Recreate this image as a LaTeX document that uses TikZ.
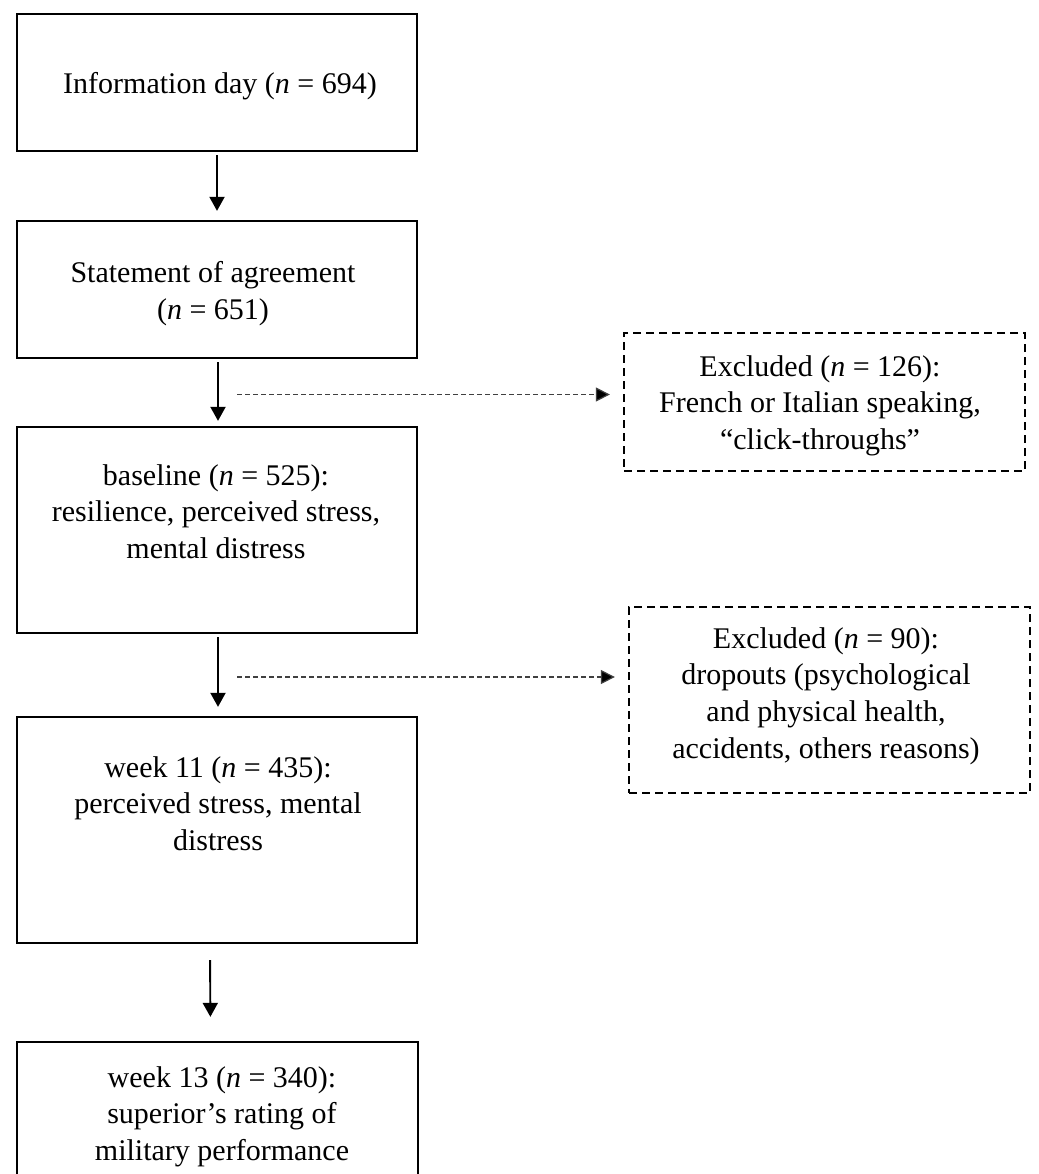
\documentclass[tikz,border=0pt]{standalone}
\usepackage{fontspec}
\setmainfont{Liberation Serif}
\usetikzlibrary{arrows.meta,calc}
\begin{document}
\begin{tikzpicture}[x=1pt,y=-1pt,
  box/.style={draw=black, line width=2.3pt, rectangle, inner sep=0pt, minimum width=400pt},
  exbox/.style={draw=black, line width=2.3pt, rectangle, inner sep=0pt, minimum width=401pt, dash pattern=on 8pt off 5pt},
  txt/.style={inner sep=0pt, align=center, anchor=north, font=\fontsize{30}{36.7}\selectfont},
  arr/.style={line width=1.9pt, -{Triangle[length=14pt,width=15pt]}, shorten <=3pt},
  darr/.style={line width=1.2pt, draw=black!75, dash pattern=on 5pt off 3pt, -{Triangle[length=14pt,width=14pt,fill=black]}, shorten >=13pt}
]
\useasboundingbox (0,0) rectangle (1038,1174);
% main boxes
\node[box, minimum height=137pt] (b1) at (217,82.5) {};
\node[box, minimum height=137pt] (b2) at (217,289.5) {};
\node[box, minimum height=206pt] (b3) at (217,530) {};
\node[box, minimum height=226pt] (b4) at (217,830) {};
\node[box, minimum width=401pt, minimum height=200pt] (b5) at (217.5,1142) {};
% excluded boxes
\node[exbox, minimum height=138pt] (e1) at (824.5,402) {};
\node[exbox, minimum height=186pt] (e2) at (829.5,700) {};
% texts
\node[txt] (t1) at (220,72) {Information day (\textit{n} = 694)};
\node[txt] (t2) at (213,261) {Statement of agreement\\(\textit{n} = 651)};
\node[txt] (t3) at (216,464) {baseline (\textit{n} = 525):\\resilience, perceived stress,\\mental distress};
\node[txt] (t4) at (218,756) {week 11 (\textit{n} = 435):\\perceived stress, mental\\distress};
\node[txt] (t5) at (222,1066) {week 13 (\textit{n} = 340):\\superior’s rating of\\military performance};
\node[txt] (te1) at (820,355) {Excluded (\textit{n} = 126):\\French or Italian speaking,\\“click-throughs”};
\node[txt] (te2) at (826,627) {Excluded (\textit{n} = 90):\\dropouts (psychological\\and physical health,\\accidents, others reasons)};
% arrows
\draw[arr, shorten >=9pt] (b1.south) -- (b2.north);
\draw[arr, shorten >=5pt] ([xshift=1pt]b2.south) -- ([xshift=1pt]b3.north);
\draw[arr, shorten >=9pt] ([xshift=1pt]b3.south) -- ([xshift=1pt]b4.north);
\draw[arr, shorten <=16pt, shorten >=24pt] ([xshift=-7pt]b4.south) -- ([xshift=-7pt]b5.north);
% dashed connectors
\coordinate (d1) at (237,394.5);
\coordinate (d2) at (237,677);
\draw[darr] (d1) -- (d1 -| e1.west);
\draw[darr] (d2) -- (d2 -| e2.west);
\end{tikzpicture}
\end{document}
